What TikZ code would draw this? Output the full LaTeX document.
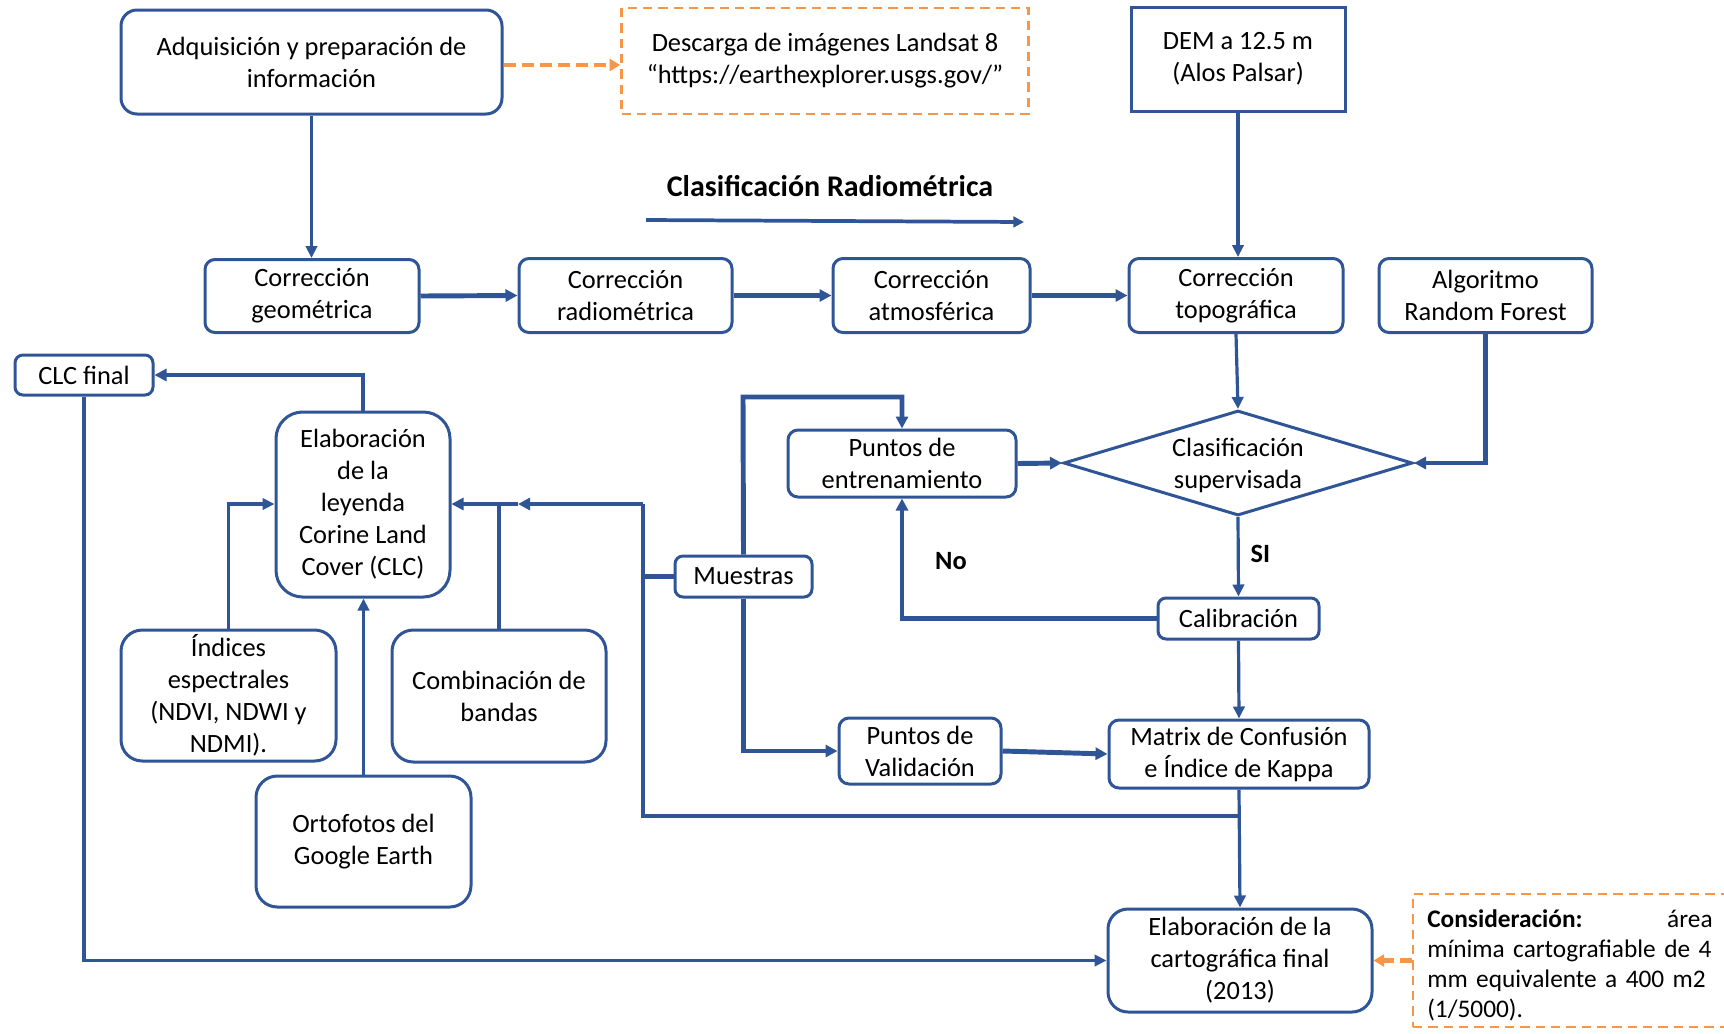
\documentclass[tikz,border=0pt]{standalone}
\usepackage{fontspec}
\setmainfont{Carlito}
\usetikzlibrary{arrows.meta,shapes.geometric}
\definecolor{flowblue}{HTML}{2F5597}
\definecolor{noteorange}{HTML}{F79646}

\begin{document}
\begin{tikzpicture}[x=0.75pt,y=-0.75pt,
  txt/.style={font=\fontsize{19.8}{24}\selectfont, align=center, text=black},
  sz/.style 2 args={minimum width=#1*0.75pt, minimum height=#2*0.75pt},
  box/.style={txt, draw=flowblue, line width=2.25pt, inner sep=0pt, rounded corners=#1},
  box/.default=7.5pt,
  sqbox/.style={txt, draw=flowblue, line width=2.25pt, inner sep=0pt},
  notebox/.style={draw=noteorange, line width=2pt, dash pattern=on 7pt off 4.5pt, inner sep=0pt},
  conn/.style={draw=flowblue, line width=2.4pt, -{Triangle[length=9pt,width=8.5pt]}},
  thickconn/.style={draw=flowblue, line width=3.7pt, -{Triangle[length=9pt,width=9pt]}},
  plain/.style={draw=flowblue, line width=2.4pt},
  thickplain/.style={draw=flowblue, line width=3.7pt},
  notearrow/.style={draw=noteorange, line width=3.6pt, dash pattern=on 9pt off 4.5pt, -{Triangle[length=8pt,width=9pt]}},
  lbl/.style={font=\fontsize{19.8}{24}\selectfont\bfseries, text=black, inner sep=0pt}
]
\useasboundingbox (0,0) rectangle (1724,1033);

% --- top row of sources
\node[box=12pt, sz={381}{104}] (adq) at (311.5,62) {Adquisición y preparación de\\información};
\node[notebox, sz={407}{106}, txt] (desc) at (825,61) {Descarga de imágenes Landsat 8\\“https://earthexplorer.usgs.gov/”};
\node[sqbox, sz={214}{104}] (dem) at (1238,59) {DEM a 12.5 m\\(Alos Palsar)};

% --- radiometric chain
\node[font=\fontsize{22.5}{26}\selectfont\bfseries, inner sep=0pt] (title) at (830,186) {Clasificación Radiométrica};
\coordinate (ts) at (646,220);
\coordinate (te) at (1024,222);
\draw[draw=flowblue, line width=2.8pt, -{Triangle[length=8pt,width=8pt]}] (ts) -- (te);

\node[box, sz={214}{73}] (geo) at (312,296) {Corrección\\geométrica};
\node[box, sz={213}{74}] (rad) at (625.5,295.5) {Corrección\\radiométrica};
\node[box, sz={197}{74}] (atm) at (931.5,295.5) {Corrección\\atmosférica};
\node[box, sz={214}{74}] (topo) at (1236,295.5) {Corrección\\topográfica};
\node[box, sz={213}{74}] (rf) at (1485.5,295.5) {Algoritmo\\Random Forest};

% --- classification loop
\node[draw=flowblue, line width=2.25pt, diamond, inner sep=0pt, sz={349}{105}] (dia) at (1238,463) {};
\node[txt] at ([yshift=-2pt]dia.center) {Clasificación\\supervisada};
\node[box, sz={228}{67}] (pe) at (902,463.5) {Puntos de\\entrenamiento};
\node[box=6pt, sz={137}{41}] (mue) at (743.5,576.5) {Muestras};
\node[box=6pt, sz={161}{41}] (cal) at (1238.5,618.5) {Calibración};
\node[box, sz={162}{66}] (val) at (920,751) {Puntos de\\Validación};
\node[box, sz={260}{68}] (mat) at (1239,754) {Matrix de Confusión\\e Índice de Kappa};
\node[box=15pt, sz={264}{103}] (fin) at (1240,960.5) {Elaboración de la\\cartográfica final\\(2013)};

% --- legend branch
\node[box=6pt, sz={138}{40}] (clc) at (84,375) {CLC final};
\node[box=20pt, sz={174}{185}] (ley) at (363,504.5) {Elaboración\\de la\\leyenda\\Corine Land\\Cover (CLC)};
\node[box=16pt, sz={215}{131}] (ind) at (228.5,695.5) {Índices\\espectrales\\(NDVI, NDWI y\\NDMI).};
\node[box=16pt, sz={214}{132}] (comb) at (499,696) {Combinación de\\bandas};
\node[box=16pt, sz={215}{131}] (orto) at (363.5,841.5) {Ortofotos del\\Google Earth};

% --- note on the minimum mapping unit
\node[notebox, sz={322}{133}] (cons) at (1574,960.5) {};
\node[anchor=west, inner sep=0pt, text width=214pt, font=\fontsize{19}{22.5}\selectfont] (constxt) at (1427,965)
  {\makebox[214pt][s]{\textbf{Consideración:}\hfill área}\\
   \makebox[214pt][s]{mínima cartografiable de 4}\\
   \makebox[214pt][s]{mm equivalente a 400 m2}\\
   (1/5000).};

% --- connectors
\draw[notearrow] (adq.east |- 0,65) -- (desc.west |- 0,65);
\draw[conn] (adq.south) -- (adq.south |- geo.north);
\draw[thickconn] (geo.east) -- (rad.west);
\draw[thickconn] (rad.east) -- (atm.west);
\draw[thickconn] (atm.east) -- (topo.west);
\draw[conn] (dem.south) -- (dem.south |- topo.north);
\draw[conn] (topo.south) -- (dia.north);
\draw[thickconn] (rf.south) |- (dia.east);
\draw[thickconn] (pe.east) -- (dia.west);
\draw[conn] (dia.south) -- (cal.north) node[lbl, pos=0.47, right=8pt] {SI};
\draw[thickconn] (cal.west) -| (pe.south);
\node[lbl] (no) at (951,561) {No};
\draw[conn] (cal.south) -- (mat.north);

\coordinate (mtop) at (743,397);
\draw[thickconn] (mue.north) -- (mtop) -| (pe.north);
\draw[thickconn] (mue.south) |- (val.west);
\draw[thickconn] (val.east) -- (mat.west);
\draw[conn] (mat.south) -- (fin.north);

% feedback of samples and validation to the legend
\coordinate (jb) at (1239,816);
\coordinate (jl) at (643,816);
\coordinate (jt) at (643,504);
\coordinate (jm) at (518,504);
\coordinate (jc) at (499,504);
\draw[thickplain] (jb) -- (jl) -- (jt);
\draw[thickplain] (mue.west) -- (mue.west -| jl);
\draw[thickconn] (jt) -- (jm);
\draw[thickconn] (jm) -- (ley.east |- jm);
\draw[plain] (comb.north -| jc) -- (jc);
\draw[conn] (ind.north) |- (ley.west |- jt);
\draw[conn] (orto.north) -- (orto.north |- ley.south);
\draw[thickconn] (ley.north) |- (clc.east);
\draw[conn] (clc.south) |- (fin.west);
\draw[notearrow] (cons.west) -- (fin.east);
\end{tikzpicture}
\end{document}
